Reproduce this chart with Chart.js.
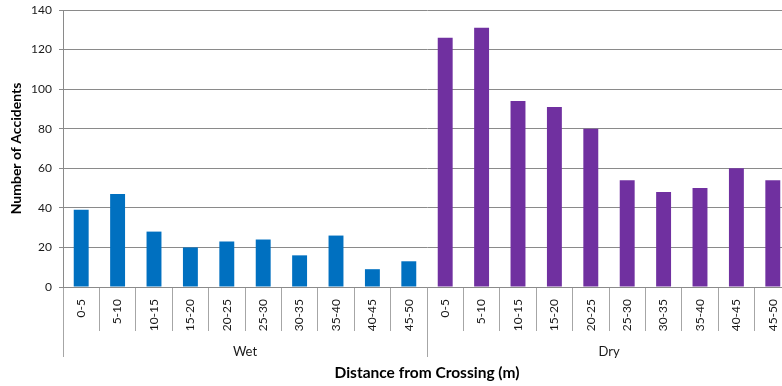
<!DOCTYPE html>
<html>
<head>
<meta charset="utf-8">
<script src="https://cdn.jsdelivr.net/npm/chart.js@4/dist/chart.umd.min.js"></script>
<style>
  html, body { margin: 0; padding: 0; background: #fff; overflow: hidden; }
  #wrap { width: 800px; height: 386px; position: relative; }
</style>
</head>
<body>
<div id="wrap"><canvas id="c"></canvas></div>
<script>
// Distance bands from the crossing, repeated for each road surface condition
const distanceBands = ['0-5','5-10','10-15','15-20','20-25','25-30','30-35','35-40','40-45','45-50'];
const conditions = ['Wet', 'Dry'];
const wetAccidents = [39, 47, 28, 20, 23, 24, 16, 26, 9, 13];
const dryAccidents = [126, 131, 94, 91, 80, 54, 48, 50, 60, 54];
const yTicks = [0, 20, 40, 60, 80, 100, 120, 140];

const labels = distanceBands.concat(distanceBands);
const empty = distanceBands.map(() => null);

Chart.defaults.font.family = "Lato, 'Open Sans', sans-serif";
Chart.defaults.color = '#1a1a1a';

new Chart(document.getElementById('c'), {
  type: 'bar',
  data: {
    labels: labels,
    datasets: [
      { label: 'Wet', data: wetAccidents.concat(empty), backgroundColor: '#0070C0' },
      { label: 'Dry', data: empty.concat(dryAccidents), backgroundColor: '#7030A0' }
    ]
  },
  options: {
    responsive: true,
    maintainAspectRatio: false,
    animation: false,
    layout: { padding: { top: 10, right: 9, bottom: 2, left: 8 } },
    datasets: { bar: { grouped: false, barPercentage: 0.41, categoryPercentage: 1 } },
    plugins: { legend: { display: false }, tooltip: { enabled: false } },
    scales: {
      y: {
        min: 0, max: 140,
        afterBuildTicks: (s) => { s.ticks = yTicks.map(v => ({ value: v })); },
        grid: { color: '#8a8a8a', tickLength: 4, tickColor: '#8a8a8a' },
        border: { color: '#8a8a8a' },
        ticks: { padding: 7, font: { size: 12, lineHeight: 0.5 } },
        title: { display: true, text: 'Number of Accidents', font: { size: 14, weight: 'bold' }, color: '#000', padding: { top: 0, bottom: 5 } },
        afterFit: (s) => { s.width = 55; }
      },
      x: {
        position: 'bottom',
        offset: true,
        // separators run 44px below the axis; labels sit inside that band
        grid: { offset: true, drawOnChartArea: false, tickLength: 44, tickColor: '#a6a6a6' },
        border: { color: '#8a8a8a' },
        ticks: { minRotation: 90, maxRotation: 90, autoSkip: false, padding: -32, font: { size: 12 } },
        afterFit: (s) => { s.height = 44; }
      },
      x2: {
        type: 'category',
        position: 'bottom',
        labels: conditions,
        offset: true,
        grid: { offset: true, drawOnChartArea: false, tickLength: 26, tickColor: '#a6a6a6' },
        border: { display: false },
        ticks: { padding: -13.3, font: { size: 13 } },
        title: { display: true, text: 'Distance from Crossing (m)', font: { size: 15.5, weight: 'bold' }, color: '#000', padding: { top: 4, bottom: 2 } },
        afterFit: (s) => { s.height = 53; }
      }
    }
  }
});
</script>
</body>
</html>
